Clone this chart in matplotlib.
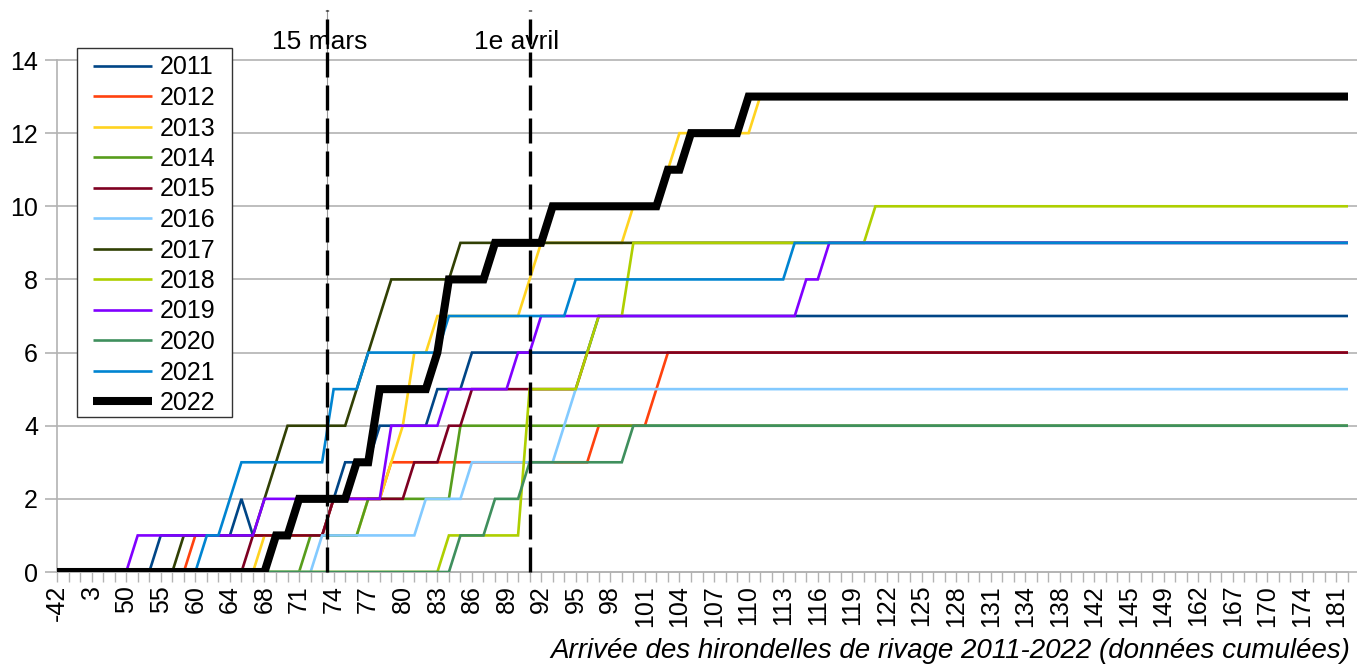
import numpy as np
import matplotlib
matplotlib.use("Agg")
import matplotlib.pyplot as plt
from matplotlib.patches import Rectangle

plt.rcParams['font.family'] = ['Liberation Sans', 'DejaVu Sans']

# ---------------- data ----------------
# x axis: 113 categories (days), a label is shown on every third one
day_labels = ['-42', '3', '50', '55', '60', '64', '68', '71', '74', '77', '80',
              '83', '86', '89', '92', '95', '98', '101', '104', '107', '110',
              '113', '116', '119', '122', '125', '128', '131', '134', '138',
              '142', '145', '149', '162', '167', '170', '174', '181']
n_categories = 113

years = ['2011', '2012', '2013', '2014', '2015', '2016',
         '2017', '2018', '2019', '2020', '2021', '2022']

# cumulative counts per category
y2011 = [0]*9 + [1]*7 + [2] + [1]*7 + [2] + [3]*3 + [4]*5 + [5]*3 + [6]*11 + [7]*66
y2012 = [0]*12 + [1]*12 + [2]*5 + [3]*18 + [4]*5 + [5] + [6]*60
y2013 = ([0]*18 + [1]*9 + [2]*2 + [3] + [4] + [6]*2 + [7]*8 + [8] + [9]*8
         + [10]*3 + [11] + [12]*7 + [13]*52)
y2014 = [0]*22 + [1]*5 + [2]*8 + [4]*78
y2015 = [0]*17 + [1]*7 + [2]*7 + [3]*3 + [4]*2 + [5]*10 + [6]*67
y2016 = [0]*23 + [1]*9 + [2]*4 + [3]*8 + [4] + [5]*68
y2017 = [0]*11 + [1]*7 + [2] + [3] + [4]*6 + [5] + [6] + [7] + [8]*6 + [9]*78
y2018 = [0]*34 + [1]*7 + [5]*5 + [6] + [7]*3 + [9]*21 + [10]*42
y2019 = [0]*7 + [1]*11 + [2]*11 + [4]*5 + [5]*6 + [6]*2 + [7]*23 + [8]*2 + [9]*46
y2020 = [0]*35 + [1]*3 + [2]*3 + [3]*9 + [4]*63
y2021 = [0]*13 + [1]*2 + [2] + [3]*8 + [5]*3 + [6]*7 + [7]*11 + [8]*19 + [9]*49
y2022 = ([0]*19 + [1]*2 + [2]*5 + [3]*2 + [5]*5 + [6] + [8]*4 + [9]*5
         + [10]*10 + [11]*2 + [12]*5 + [13]*53)

series = [y2011, y2012, y2013, y2014, y2015, y2016,
          y2017, y2018, y2019, y2020, y2021, y2022]
for s in series:
    assert len(s) == n_categories, len(s)

colors = ['#004586', '#ff420e', '#ffd320', '#579d1c', '#7e0021', '#83caff',
          '#314004', '#aecf00', '#8000ff', '#3f8f5d', '#0084d1', '#000000']

title = 'Arrivée des hirondelles de rivage 2011-2022 (données cumulées)'

# ---------------- figure ----------------
W, H = 1357, 672
fig = plt.figure(figsize=(W/100, H/100), dpi=100)
L, R, T, B = 57, 1348, 60, 572
ax = fig.add_axes([L/W, 1 - B/H, (R - L)/W, (B - T)/H])

x = np.arange(n_categories)
handles = []
for i, (yr, s, c) in enumerate(zip(years, series, colors)):
    lw = 5.8 if yr == '2022' else 1.9
    h, = ax.plot(x, s, color=c, lw=lw, zorder=3 + i, label=yr,
                 solid_joinstyle='miter', solid_capstyle='butt')
    handles.append(h)

ax.set_xlim(0, n_categories - 1)
ax.set_ylim(0, 14)

grid_c = '#b3b3b3'
yt = list(range(0, 15, 2))
ax.set_yticks(yt)
ax.set_yticklabels([str(v) for v in yt], fontsize=18)
for v in yt:
    ax.plot([0, 1.007], [v, v], transform=ax.get_yaxis_transform(),
            color=grid_c, lw=1.2, zorder=1, clip_on=False)

ax.set_xticks(np.arange(0, n_categories, 3))
ax.set_xticklabels(day_labels, rotation=90, fontsize=18, va='top', ha='center')
ax.set_xticks(np.arange(n_categories), minor=True)
ax.tick_params(axis='x', which='both', direction='out', length=7.2,
               width=1, color=grid_c, pad=2)
ax.tick_params(axis='y', which='major', direction='out', length=8.6,
               width=1.2, color=grid_c, pad=5)

for sp in ['top', 'right']:
    ax.spines[sp].set_visible(False)
for sp in ['left', 'bottom']:
    ax.spines[sp].set_color(grid_c)
    ax.spines[sp].set_linewidth(1.2)

# reference dates
ref_lines = [(23.45, '15 mars', 22.8), (41.0, '1e avril', 39.9)]
for xpos, txt, tx in ref_lines:
    if txt == '15 mars':
        ax.plot([xpos, xpos], [0, 15.37], color='#999999', lw=0.8,
                zorder=19, clip_on=False)
    ax.plot([xpos, xpos], [0, 15.37], color='black', lw=2.4,
            dashes=(7.5, 2.4), zorder=20, clip_on=False)
    ax.text(tx, 14.5, txt, fontsize=19, ha='center', va='center',
            clip_on=False, zorder=21)

# legend box and legend entries
frame = Rectangle((77/W, 1 - 417/H), (232 - 77)/W, (417 - 48)/H,
                  transform=fig.transFigure, facecolor='white',
                  edgecolor='#333333', lw=1.0, zorder=39, clip_on=False)
ax.add_patch(frame)
leg = ax.legend(handles=handles, loc='upper left',
                bbox_to_anchor=(93/W, 1 - 55.5/H), bbox_transform=fig.transFigure,
                fontsize=18, frameon=False, borderpad=0, labelspacing=0.26,
                handlelength=2.36, handletextpad=0.32, borderaxespad=0)
leg.set_zorder(40)

fig.text(1350/W, 1 - 651/H, title, fontsize=20, style='italic',
         ha='right', va='center')

fig.savefig('out.png', dpi=100)
